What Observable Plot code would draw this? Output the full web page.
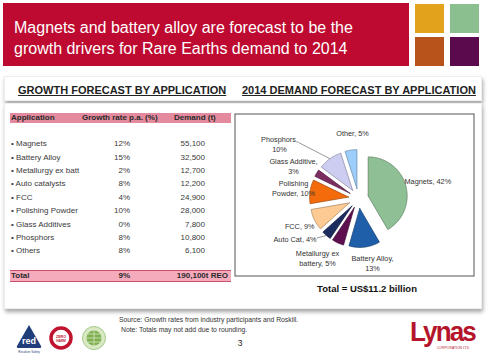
<!DOCTYPE html>
<html><head><meta charset="utf-8">
<script src="https://cdn.jsdelivr.net/npm/d3@7"></script>
<script src="https://cdn.jsdelivr.net/npm/@observablehq/plot@0.6"></script>
<style>
html,body{margin:0;padding:0;background:#fff;}
body{width:490px;height:364px;position:relative;overflow:hidden;font-family:"Liberation Sans",Arial,sans-serif;}
.abs{position:absolute;white-space:nowrap;}
.sq{position:absolute;width:29px;height:29px;}
.sec{position:absolute;font-size:11px;line-height:13px;font-weight:bold;color:#222;text-decoration:underline;white-space:nowrap;}
.cell{position:absolute;font-size:8px;line-height:10px;color:#3a3a3a;white-space:nowrap;}
.b{font-weight:bold;color:#2a2a2a;}
.r{text-align:right;}
</style></head><body>

<div class="abs" style="left:3px;top:3px;width:406px;height:63px;background:#be0a30;"></div>
<div class="abs" style="left:14px;top:16.5px;color:#fff;font-size:16px;line-height:21.5px;">Magnets and battery alloy are forecast to be the<br>growth drivers for Rare Earths demand to 2014</div>
<div class="sq" style="left:415px;top:4px;background:#e2a21c;"></div>
<div class="sq" style="left:450px;top:4px;background:#8cbf8f;"></div>
<div class="sq" style="left:415px;top:37px;background:#b8531b;"></div>
<div class="sq" style="left:450px;top:37px;background:#5c0a4e;"></div>

<div class="abs" style="left:4px;top:76px;width:476px;height:23px;background:#fff;border:1px solid #eee;box-shadow:1px 3px 4px rgba(0,0,0,0.35);"></div>
<div class="sec" style="left:18px;top:84px;">GROWTH FORECAST BY APPLICATION</div>
<div class="sec" style="left:242px;top:84px;">2014 DEMAND FORECAST BY APPLICATION</div>

<div class="abs" style="left:4px;top:103px;width:476px;height:204px;background:#fff;border:1px solid #eee;box-shadow:1px 3px 4px rgba(0,0,0,0.35);"></div>

<div id="table"></div>
<div id="pie" class="abs" style="left:234px;top:113px;"></div>
<div class="abs" style="left:267px;top:282.5px;width:200px;text-align:center;font-size:9.5px;line-height:11px;font-weight:bold;color:#111;">Total = US$11.2 billion</div>

<div class="abs" style="left:119px;top:315.5px;font-size:6.8px;line-height:8px;color:#333;">Source: Growth rates from industry participants and Roskill.</div>
<div class="abs" style="left:121px;top:325.5px;font-size:6.8px;line-height:8px;color:#333;">Note: Totals may not add due to rounding.</div>
<div class="abs" style="left:230px;top:338px;width:20px;text-align:center;font-size:8.5px;line-height:10px;color:#222;">3</div>

<svg class="abs" style="left:0;top:315px;" width="120" height="45">
  <path d="M29,10 L41,31 Q42,33 39,33 L19,33 Q16,33 17,31 Z" fill="#1f3d78"/>
  <text x="29" y="29" font-size="9" font-weight="bold" fill="#fff" text-anchor="middle" font-family="Liberation Sans">red</text>
  <text x="29" y="37.5" font-size="3" fill="#1f3d78" text-anchor="middle" font-family="Liberation Sans">Resolute·Safety</text>
  <circle cx="61" cy="23" r="10" fill="#fff" stroke="#c0142e" stroke-width="3.5"/>
  <text x="61" y="22.5" font-size="3.6" font-weight="bold" fill="#c0142e" text-anchor="middle" font-family="Liberation Sans">ZERO</text>
  <text x="61" y="26.5" font-size="3.2" font-weight="bold" fill="#c0142e" text-anchor="middle" font-family="Liberation Sans">HARM</text>
  <circle cx="94" cy="23" r="11.5" fill="#d9e9c4" stroke="#a6c98a" stroke-width="1"/>
  <circle cx="94" cy="23" r="7.5" fill="#7fb050"/>
  <path d="M86.5,23 H101.5 M94,15.5 V30.5 M88,19 H100 M88,27 H100" stroke="#d9e9c4" stroke-width="0.8"/>
</svg>
<div class="abs" style="left:410px;top:317px;font-size:28px;line-height:30px;font-weight:bold;color:#b5152b;letter-spacing:-2px;transform:scaleX(0.93);transform-origin:left top;">Lynas</div>
<div class="abs" style="left:437px;top:346px;font-size:3.4px;line-height:4px;color:#b5152b;">CORPORATION LTD</div>

<script>
// ---- Table data ----
const applications = ["Magnets","Battery Alloy","Metallurgy ex batt","Auto catalysts","FCC","Polishing Powder","Glass Additives","Phosphors","Others"];
const growthRates = ["12%","15%","2%","8%","4%","10%","0%","8%","8%"];
const demandTonnes = ["55,100","32,500","12,700","12,200","24,900","28,000","7,800","10,800","6,100"];
const tableHeaders = ["Application","Growth rate p.a. (%)","Demand (t)"];
const totalLabel = "Total", totalGrowth = "9%", totalDemand = "190,100t REO";

// ---- Pie data ----
const pieCategories = ["Magnets","Battery Alloy","Metallurgy ex battery","Auto Cat","FCC","Polishing Powder","Glass Additive","Phosphors","Other"];
const pieShares = [42,13,5,4,9,10,3,10,5];
const pieLabels = ["Magnets, 42%","Battery Alloy,\n13%","Metallurgy ex\nbattery, 5%","Auto Cat, 4%","FCC, 9%","Polishing\nPowder, 10%","Glass Additive,\n3%","Phosphors,\n10%","Other, 5%"];
const pieColors = ["#8fc095","#1f5ea8","#5e0f4f","#1d2c5e","#fdca94","#f46b0c","#7b2d5f","#cdcdf2","#9dcdfb"];

// ---- Table layout ----
const T = document.getElementById("table");
function cell(txt, left, top, cls, right) {
  const d = document.createElement("div");
  d.className = "cell " + (cls || "");
  d.textContent = txt;
  d.style.top = top + "px";
  if (right !== undefined) { d.style.right = (490 - right) + "px"; d.style.textAlign = "right"; }
  else d.style.left = left + "px";
  T.appendChild(d);
}
function bar(left, top, w, h, bg, border) {
  const d = document.createElement("div");
  d.className = "abs";
  Object.assign(d.style, {left: left+"px", top: top+"px", width: w+"px", height: h+"px", background: bg});
  if (border) { d.style.borderTop = border; d.style.borderBottom = border; }
  T.appendChild(d);
}
bar(10, 113, 221, 10, "#e48a9e");
cell(tableHeaders[0], 11, 113, "b");
cell(tableHeaders[1], 82, 113, "b");
cell(tableHeaders[2], 174, 113, "b");
applications.forEach((a, i) => {
  const top = 144.3 + i * 13.37 - 5;
  cell("\u2022 " + a, 11, top);
  cell(growthRates[i], 0, top, "", 130);
  cell(demandTonnes[i], 0, top, "", 205);
});
bar(10, 270, 221, 10, "#f6abbd", "1px solid #c9506b");
cell(totalLabel, 11, 271, "b");
cell(totalGrowth, 0, 271, "b", 130);
cell(totalDemand, 0, 271, "b", 228);

// ---- Pie ----
const R = 39, EX = 10;
const arcs = d3.pie().sort(null).value(d => d)(pieShares);
const slices = arcs.map((p, i) => {
  const mid = (p.startAngle + p.endAngle) / 2;
  const ox = EX * Math.sin(mid), oy = -EX * Math.cos(mid);
  const pts = [{x: ox, y: oy}];
  const n = Math.max(2, Math.ceil((p.endAngle - p.startAngle) / 0.02));
  for (let k = 0; k <= n; k++) {
    const a = p.startAngle + (p.endAngle - p.startAngle) * k / n;
    pts.push({x: ox + R * Math.sin(a), y: oy - R * Math.cos(a)});
  }
  pts.push({x: ox, y: oy});
  return {pts, mid, i};
});
// label placement (offsets from pie centre, px) and anchors
const labelLayout = [
  {dx: 46, dy: -18, anchor: "start"},
  {dx: 14, dy: 64.5, anchor: "middle"},
  {dx: -41, dy: 59.5, anchor: "middle"},
  {dx: -42, dy: 40, anchor: "end"},
  {dx: -44, dy: 27, anchor: "end"},
  {dx: -65, dy: -10.5, anchor: "middle"},
  {dx: -65, dy: -33, anchor: "middle"},
  {dx: -79, dy: -55, anchor: "middle"},
  {dx: -6, dy: -66, anchor: "middle"}
];
const labelData = pieLabels.map((t, i) => ({text: t, x: labelLayout[i].dx, y: labelLayout[i].dy, anchor: labelLayout[i].anchor}));
const leaders = [
  {i: 3, x1: -41.5, y1: 39.5},
  {i: 7, x1: -60, y1: -56}
].map(l => ({x1: l.x1, y1: l.y1, x2: (R + EX) * Math.sin(slices[l.i].mid), y2: -(R + EX) * Math.cos(slices[l.i].mid)}));

const textOpts = {fontSize: 7.3, fill: "#333", lineHeight: 1.4, lineAnchor: "middle"};
const chart = Plot.plot({
  width: 240, height: 163,
  margin: 0,
  x: {domain: [-124, 116], axis: null},
  y: {domain: [-85, 78], range: [0, 163], axis: null},
  style: {fontFamily: "'Liberation Sans', Arial, sans-serif", background: "#fff", overflow: "visible"},
  marks: [
    Plot.frame({stroke: "#555", inset: 0.5}),
    ...slices.map(s => Plot.line(s.pts, {x: "x", y: "y", curve: "linear", fill: pieColors[s.i], stroke: d3.color(pieColors[s.i]).darker(1.2).formatHex(), strokeWidth: 0.7})),
    Plot.link(leaders, {x1: "x1", y1: "y1", x2: "x2", y2: "y2", stroke: "#555", strokeWidth: 0.6}),
    ...["start", "middle", "end"].map(a => Plot.text(labelData, {filter: d => d.anchor === a, x: "x", y: "y", text: "text", textAnchor: a, ...textOpts}))
  ]
});
document.getElementById("pie").appendChild(chart);
</script>
</body></html>
